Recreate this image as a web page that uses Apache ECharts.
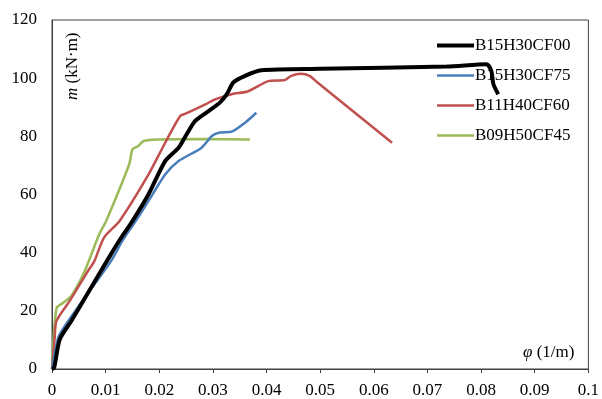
<!DOCTYPE html>
<html>
<head>
<meta charset="utf-8">
<script src="https://cdn.jsdelivr.net/npm/echarts@6/dist/echarts.min.js"></script>
<style>
  html, body { margin: 0; padding: 0; background: #fff; }
  #chart { width: 602px; height: 399px; }
</style>
</head>
<body>
<div id="chart"></div>
<script>
// Moment–curvature curves: [curvature φ (1/m), moment m (kN·m)]
const seriesNames = ['B15H30CF00', 'B15H30CF75', 'B11H40CF60', 'B09H50CF45'];
const seriesColors = ['#000000', '#4a7ebb', '#c0504d', '#9bbb59'];

const curveB15H30CF00 = [
  [0, 0], [0.0004, 0.4], [0.00145, 10.2], [0.0036, 16.5], [0.0073, 28], [0.011, 39.5],
  [0.0125, 44], [0.015, 50.9], [0.018, 60.1], [0.0211, 71.5], [0.0236, 76.1],
  [0.0251, 80.7], [0.0267, 85.3], [0.0292, 88.7], [0.0313, 91.6], [0.0326, 94.5],
  [0.0338, 98.5], [0.036, 100.8], [0.039, 102.7], [0.05, 103.2], [0.0736, 104],
  [0.081, 104.8], [0.0819, 102.5], [0.0823, 97.9], [0.0832, 94.5]
];
const curveB15H30CF75 = [
  [0, 0], [0.00115, 10.8], [0.0024, 14.8], [0.0061, 24.5], [0.011, 37.1],
  [0.0131, 44], [0.0156, 50.9], [0.018, 57.8], [0.0211, 66.9], [0.0236, 71.5],
  [0.0279, 76.1], [0.0298, 80.1], [0.0313, 81.3], [0.0335, 81.6], [0.036, 84.7],
  [0.0381, 88.1]
];
const curveB11H40CF60 = [
  [0, 0], [0.0005, 10.8], [0.00083, 16.5], [0.0033, 23.4], [0.0067, 33.7],
  [0.0079, 37.1], [0.0097, 45.2], [0.0126, 50.9], [0.018, 66.9], [0.0211, 77.8],
  [0.0239, 87], [0.0249, 87.8], [0.0286, 91], [0.0304, 92.7], [0.0335, 94.5],
  [0.0366, 95.5], [0.0403, 99], [0.0434, 99.4], [0.0446, 100.8], [0.0464, 101.5],
  [0.048, 100.8], [0.0495, 98.5], [0.0634, 77.8]
];
const curveB09H50CF45 = [
  [0, 0], [0.00083, 20.9], [0.0021, 22.8], [0.0036, 25.1], [0.0061, 33.7],
  [0.0088, 46.3], [0.0101, 50.9], [0.0144, 70.4], [0.015, 75.5], [0.0161, 76.7],
  [0.0171, 78.4], [0.0199, 78.9], [0.028, 79.1], [0.0369, 78.9]
];

const curves = [curveB15H30CF00, curveB15H30CF75, curveB11H40CF60, curveB09H50CF45];
const lineWidths = [4, 2.5, 2.5, 2.5];

const xTicks = { min: 0, max: 0.1, step: 0.01 };
const yTicks = { min: 0, max: 120, step: 20 };

const font = '"Liberation Serif", "Times New Roman", serif';
const fontSize = 17;

const chart = echarts.init(document.getElementById('chart'), null, { renderer: 'canvas' });

chart.setOption({
  animation: false,
  backgroundColor: '#ffffff',
  textStyle: { fontFamily: font },
  grid: {
    left: 52, right: 11, top: 20, bottom: 30,
    show: true, borderColor: '#404040', borderWidth: 1
  },
  legend: {
    orient: 'vertical',
    left: 430, top: 32,
    itemWidth: 37, itemHeight: 14, itemGap: 13,
    data: seriesNames,
    // line-only legend keys (hide the marker drawn on the key line)
    itemStyle: { opacity: 0, borderWidth: 0 },
    lineStyle: { width: 'inherit' },
    textStyle: { fontFamily: font, fontSize: fontSize, color: '#000', padding: [0, 0, 0, -4] }
  },
  xAxis: {
    type: 'value',
    min: xTicks.min, max: xTicks.max, interval: xTicks.step,
    axisLine: { show: true, lineStyle: { color: '#404040', width: 1 } },
    axisTick: { show: true, inside: false, length: 4, lineStyle: { color: '#404040' } },
    splitLine: { show: false },
    axisLabel: {
      fontFamily: font, fontSize: fontSize, color: '#000', margin: 13,
      formatter: v => String(Math.round(v * 100) / 100)
    }
  },
  yAxis: {
    type: 'value',
    min: yTicks.min, max: yTicks.max, interval: yTicks.step,
    axisLine: { show: true, lineStyle: { color: '#404040', width: 1 } },
    axisTick: { show: false },
    splitLine: { show: false },
    axisLabel: { fontFamily: font, fontSize: fontSize, color: '#000', margin: 15 }
  },
  graphic: [
    {
      type: 'text',
      x: 64, y: 100,
      rotation: Math.PI / 2,
      style: {
        text: '{i|m} (kN·m)',
        rich: { i: { fontStyle: 'italic', fontFamily: font, fontSize: fontSize, fill: '#000' } },
        fontFamily: font, fontSize: fontSize, fill: '#000',
        textAlign: 'left', textVerticalAlign: 'top'
      }
    },
    {
      type: 'text',
      x: 523, y: 344,
      style: {
        text: '{i|φ} (1/m)',
        rich: { i: { fontStyle: 'italic', fontFamily: font, fontSize: fontSize, fill: '#000' } },
        fontFamily: font, fontSize: fontSize, fill: '#000'
      }
    }
  ],
  series: curves.map((data, i) => ({
    name: seriesNames[i],
    type: 'line',
    data: data,
    smooth: 0.25,
    symbol: 'none',
    color: seriesColors[i],
    lineStyle: { color: seriesColors[i], width: lineWidths[i] },
    z: 10 - i
  }))
});
</script>
</body>
</html>
